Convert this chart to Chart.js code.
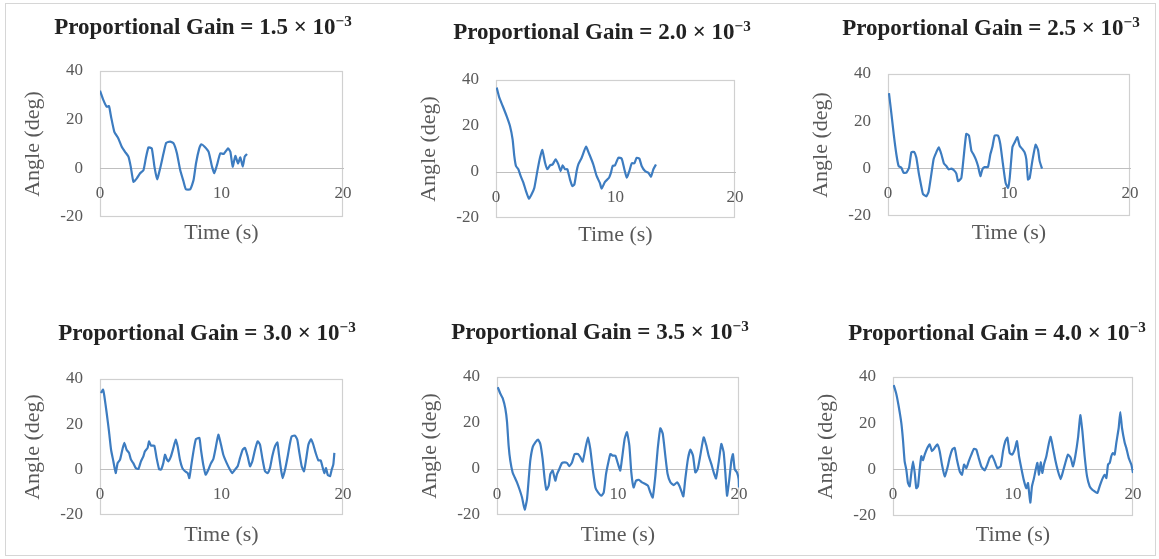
<!DOCTYPE html>
<html>
<head>
<meta charset="utf-8">
<script src="https://cdn.jsdelivr.net/npm/chart.js@4.4.0/dist/chart.umd.min.js"></script>
<style>
  html, body { margin: 0; padding: 0; background: #fff; overflow: hidden; width: 1159px; height: 559px; }
  #frame { position: absolute; left: 5px; top: 3px; width: 1149px; height: 551px; border: 1px solid #d6d6d6; }
  .panel { position: absolute; }
  .title {
    position: absolute; transform: translate(-50%, -50%); white-space: nowrap;
    font: bold 23px "Liberation Serif", serif; color: #222;
  }
  .title sup { font-size: 0.66em; vertical-align: 0.5em; line-height: 0; }
</style>
</head>
<body>
<div id="frame"></div>
<script>
// gains shown in the panel titles (x 10^-3)
const gains = ["1.5", "2.0", "2.5", "3.0", "3.5", "4.0"];
const xTicks = [0, 10, 20];
const yTicks = [-20, 0, 20, 40];

// time (s) and angle (deg)
const time1 = [0,0.28,0.55,0.74,0.91,1.18,1.51,1.79,2.06,2.34,2.53,2.75,3.03,3.3,3.58,3.77,3.99,4.26,4.48,4.7,4.95,5.23,5.45,5.78,6.05,6.33,6.6,6.88,7.07,7.43,7.7,7.9,8.17,8.34,8.61,8.94,9.22,9.41,9.63,9.9,10.18,10.54,10.73,10.92,11.14,11.36,11.55,11.75,11.91,12.1];
const angle1 = [31.9,28,25.3,25.6,21.2,15,12.3,8.9,6.8,4.8,0.7,-5.5,-4.1,-2,-0.7,4.1,8.6,8.2,0.7,-4.5,0,6.2,10.5,11,10.3,6.2,-0.7,-5.5,-8.6,-8.6,-4.8,2,8.2,9.9,8.9,6.8,0.7,-2,1.4,6.2,5.9,8.2,6.8,0.7,5.1,2,4.5,0.7,4.8,5.9];

const time2 = [0.06,0.28,0.56,0.89,1.17,1.39,1.53,1.67,1.87,2.06,2.29,2.51,2.76,2.98,3.21,3.46,3.68,3.88,4.1,4.3,4.52,4.74,4.99,5.22,5.41,5.58,5.77,5.97,6.19,6.39,6.56,6.75,6.89,7.17,7.53,7.81,8.14,8.42,8.7,8.84,9.12,9.46,9.62,9.76,9.96,10.24,10.52,10.74,10.94,11.16,11.36,11.58,11.77,12,12.19,12.47,12.75,12.97,13.17,13.39];
const angle2 = [36.7,32.3,28.7,24.3,20,14.2,7,2.6,1.2,-1.7,-4.6,-8.3,-11.6,-9.7,-6.8,0.4,6.2,9.6,4.1,1.2,2.9,3.3,5.5,3.3,0.4,2.9,1.2,1.2,-3.2,-6.1,-5.4,0.4,3.3,6.2,11,7.7,3.3,-1.7,-4.9,-7.2,-4.3,-2.5,-0.3,2.6,2.9,6.2,5.8,1.2,-2.5,0.4,3.8,3.8,6.2,5.8,2.6,0.4,-0.3,-2,1.2,3.3];

const time3 = [0.08,0.28,0.47,0.69,0.88,1.1,1.29,1.52,1.74,1.93,2.15,2.34,2.56,2.75,2.89,3.17,3.36,3.58,3.77,3.99,4.19,4.41,4.63,4.82,5.01,5.23,5.45,5.65,5.79,6.06,6.25,6.47,6.69,6.89,7.08,7.25,7.44,7.64,7.8,7.99,8.26,8.46,8.62,8.82,9.09,9.28,9.5,9.72,9.92,10.06,10.28,10.47,10.69,10.88,11.1,11.29,11.43,11.57,11.71,11.93,12.2,12.4,12.53,12.73];
const angle3 = [31.9,23.3,14.7,6.1,1.1,0.4,-1.7,-1.7,0.4,6.9,7.1,4.7,-2.4,-7.4,-10.7,-11.7,-9.6,-2.4,4,6.9,9,6.1,2.1,1.1,-0.3,0,-0.7,-2.1,-5.3,-3.9,4.7,14.7,14,7.6,5.9,4,1.1,-3.1,-0.3,0.7,0.7,6.1,9,14,14,10.4,1.9,-6,-8.1,-3.9,9,11.1,13.3,9.7,8.3,6.9,4,-4.6,-3.9,3.3,10.1,7.9,3.3,0];

const time4 = [0.08,0.25,0.36,0.55,0.74,0.91,1.1,1.29,1.45,1.65,1.84,2,2.19,2.39,2.55,2.74,2.94,3.16,3.37,3.57,3.7,3.92,4.03,4.2,4.47,4.66,4.86,5.02,5.21,5.35,5.49,5.62,5.84,6.04,6.23,6.39,6.58,6.78,7,7.22,7.35,7.54,7.74,7.9,8.18,8.31,8.5,8.7,8.92,9.14,9.33,9.52,9.74,9.96,10.15,10.43,10.7,10.89,11.11,11.33,11.52,11.74,11.93,12.15,12.35,12.54,12.76,12.98,13.17,13.36,13.58,13.8,13.99,14.18,14.4,14.6,14.73,14.9,15.03,15.23,15.45,15.64,15.78,16.05,16.24,16.41,16.6,16.79,16.96,17.15,17.37,17.56,17.75,17.97,18.16,18.3,18.46,18.6,18.74,18.93,19.07,19.2,19.29];
const angle4 = [33.8,35.3,32.4,25,16.9,8.8,3.7,-1.5,2.9,4.4,8.8,11.8,8.8,7.4,4.4,2.9,0.7,0.3,3.7,5.9,8.1,9.6,12.5,10.6,10.6,5.1,0.3,0,2.9,6.6,4.7,3.7,5.9,9.6,13.2,10.3,4.4,0.7,-0.7,-1.5,-3.7,2.9,9.6,13.5,14,8.8,2.2,-2.2,0,2.9,4.7,9.6,15.4,11,6.6,2.9,0,-1.5,0,1.5,5.1,8.8,9.6,5.9,1.5,3.7,8.8,12.5,11,5.1,-0.7,-1.5,0.7,5.9,10.3,12,6.6,0,-3.7,0,5.9,11.8,14.7,15,13.2,7.4,1.5,-0.7,4.4,11,13.5,11,7.4,4.1,4.1,1.5,-1.5,0.7,-2.2,-2.9,0,2.2,7.4];

const time5 = [0.06,0.28,0.47,0.69,0.83,0.96,1.1,1.29,1.46,1.65,1.85,2.07,2.29,2.48,2.62,2.75,2.95,3.17,3.39,3.58,3.77,3.94,4.08,4.27,4.41,4.6,4.82,4.96,5.15,5.37,5.59,5.79,5.98,6.2,6.42,6.69,6.89,7.08,7.3,7.52,7.71,7.91,8.13,8.35,8.62,8.82,9.01,9.23,9.37,9.56,9.78,10,10.19,10.33,10.55,10.74,10.94,11.1,11.29,11.49,11.71,11.98,12.26,12.48,12.67,12.87,13.09,13.28,13.5,13.7,13.91,14.1,14.33,14.6,14.88,15.07,15.23,15.4,15.56,15.78,15.98,16.2,16.39,16.59,16.8,17.08,17.3,17.49,17.71,17.91,18.1,18.32,18.54,18.73,18.87,19.01,19.2,19.37,19.5,19.64,19.83,19.97,20];
const angle5 = [35.6,32.7,30.8,26.2,20.4,10.2,3.6,-1.5,-3.6,-5.8,-8.7,-12.4,-17.7,-13.1,-4.4,3.6,9.5,11.6,12.8,10.9,4.4,-4.4,-9,-7.3,-2.2,-0.7,-5.1,-2.2,0,2.6,2.9,2.6,1.2,2.9,6.5,6.5,5.1,3.2,8.7,13.8,8.7,0,-8,-10.2,-11.6,-10.2,-2.2,3.6,6.5,5.8,5.8,2.2,-0.7,4.4,13.1,16,10.2,-1.5,-8,-5.1,-4.7,-5.8,-6.5,-7.3,-10.2,-12.4,-2.9,8.7,17.7,15.3,5.8,-2.2,-5.8,-7,-5.8,-7.3,-9.5,-11.9,-4.4,4.4,8.4,5.8,-1.5,0,5.8,13.8,10.2,5.8,2.2,-1.5,-4.1,2.9,10.9,7.3,-1.5,-11.6,-4.4,3.6,6.5,0,-1.5,-4.4,-8];

const time6 = [0.06,0.28,0.47,0.69,0.83,0.97,1.11,1.25,1.39,1.53,1.67,1.81,1.94,2.08,2.22,2.36,2.5,2.64,2.86,3.06,3.25,3.47,3.69,3.89,4.08,4.31,4.53,4.72,4.94,5.14,5.33,5.56,5.75,5.92,6.11,6.31,6.53,6.75,6.94,7.14,7.36,7.64,7.86,8.06,8.25,8.47,8.69,8.97,9.17,9.36,9.53,9.72,9.92,10.14,10.33,10.5,10.69,10.89,11.11,11.25,11.44,11.58,11.75,11.89,12.03,12.17,12.31,12.44,12.58,12.78,12.97,13.14,13.33,13.53,13.75,13.97,14.17,14.36,14.58,14.81,15,15.19,15.42,15.61,15.78,15.97,16.17,16.39,16.61,16.81,17.03,17.22,17.42,17.64,17.78,17.92,18.06,18.19,18.33,18.47,18.61,18.81,18.94,19.08,19.31,19.44,19.64,19.86,20];
const angle6 = [36.5,32.6,27.5,20.3,13,3.6,0,-5.8,-7.2,-1.4,3.6,-1.4,-8,-7.2,0,5.8,4.1,6.5,9.4,10.9,8,9.4,10.9,8,2.2,-2.9,0.7,5.1,8.7,9.4,4.3,-0.7,-2.2,2.2,0.7,3.6,6.5,9,8.7,5.1,1.4,-0.3,2.2,5.1,6.1,3.6,0.7,1.4,8,12.3,13.8,7.2,6.5,8.7,12.3,5.8,0.7,-4.3,-8,-5.8,-14.2,-7.2,-3.6,0,2.9,-2.2,3.2,-1.4,2.2,5.8,10.9,14.2,9.4,4.1,-0.7,-4.1,-0.7,2.9,6.5,5.1,1.4,5.8,13.8,23.5,16.7,5.8,-2.9,-7.2,-8.7,-9.4,-10.1,-7.2,-4.3,-2.2,-3.6,2.2,2.9,5.8,7.2,6.5,11.6,18.1,24.9,18.1,11.6,9.4,5.1,2.2,-1.4];

const times = [time1, time2, time3, time4, time5, time6];
const angles = [angle1, angle2, angle3, angle4, angle5, angle6];

// where each plot box sits on the page, the title centre and the gap above "Time (s)"
const boxes = [
  { left: 100, right: 343, top: 71, bottom: 217, tx: 203, ty: 27, gap: 3 },
  { left: 496, right: 735, top: 80, bottom: 218, tx: 602, ty: 32, gap: 4 },
  { left: 888, right: 1130, top: 74, bottom: 216, tx: 991, ty: 28, gap: 4 },
  { left: 100, right: 343, top: 379, bottom: 515, tx: 207, ty: 333, gap: 7 },
  { left: 497, right: 739, top: 377, bottom: 515, tx: 600, ty: 332, gap: 7 },
  { left: 893, right: 1133, top: 377, bottom: 516, tx: 997, ty: 333, gap: 6 },
];

const YAXIS_W = 100, PAD_TOP = 34, PAD_RIGHT = 30, BOTTOM_SPACE = 44;
const grey = "#595959";
const serif = "'Liberation Serif', 'Times New Roman', serif";

// light grey plot-area border, like the spreadsheet chart
const plotBorder = {
  id: "plotBorder",
  beforeDraw(chart) {
    const { ctx, chartArea: a } = chart;
    ctx.save();
    ctx.strokeStyle = "#d0d0d0";
    ctx.lineWidth = 1.2;
    ctx.strokeRect(Math.round(a.left) + 0.5, Math.round(a.top) + 0.5,
      Math.round(a.right - a.left) - 1, Math.round(a.bottom - a.top) - 1);
    ctx.restore();
  },
};

boxes.forEach((b, i) => {
  const w = b.right - b.left + YAXIS_W + PAD_RIGHT;
  const h = b.bottom - b.top + PAD_TOP + BOTTOM_SPACE;

  const wrap = document.createElement("div");
  wrap.className = "panel";
  wrap.style.left = (b.left - YAXIS_W) + "px";
  wrap.style.top = (b.top - PAD_TOP) + "px";
  wrap.style.width = w + "px";
  wrap.style.height = h + "px";
  const canvas = document.createElement("canvas");
  canvas.width = w;
  canvas.height = h;
  wrap.appendChild(canvas);
  document.body.appendChild(wrap);

  const title = document.createElement("div");
  title.className = "title";
  title.style.left = b.tx + "px";
  title.style.top = b.ty + "px";
  title.innerHTML = "Proportional Gain = " + gains[i] + " \u00d7 10<sup>\u22123</sup>";
  document.body.appendChild(title);

  const xTitleFont = { family: serif, size: 22 };
  const xTitleHeight = xTitleFont.size * 1.2 + b.gap + 4;

  new Chart(canvas, {
    type: "line",
    data: {
      datasets: [{
        data: times[i].map((t, k) => ({ x: t, y: angles[i][k] })),
        borderColor: "#3d7cc0",
        borderWidth: 2.2,
        pointRadius: 0,
        tension: 0.15,
        fill: false,
      }],
    },
    options: {
      responsive: false,
      animation: false,
      layout: { padding: { left: 0, top: PAD_TOP, right: PAD_RIGHT, bottom: BOTTOM_SPACE - xTitleHeight } },
      plugins: { legend: { display: false }, tooltip: { enabled: false } },
      scales: {
        x: {
          type: "linear",
          position: { y: 0 },
          min: xTicks[0],
          max: xTicks[xTicks.length - 1],
          grid: { display: false, drawTicks: false },
          border: { color: "#bfbfbf", width: 1 },
          ticks: { stepSize: xTicks[1] - xTicks[0], padding: 15, maxRotation: 0, color: grey, font: { family: serif, size: 17 } },
        },
        xt: {
          type: "linear",
          axis: "x",
          position: "bottom",
          min: xTicks[0],
          max: xTicks[xTicks.length - 1],
          grid: { display: false, drawTicks: false },
          border: { display: false },
          ticks: { display: false },
          title: { display: true, text: "Time (s)", color: grey, font: xTitleFont, padding: { top: b.gap, bottom: 4 } },
        },
        y: {
          min: yTicks[0],
          max: yTicks[yTicks.length - 1],
          grid: { display: false, drawTicks: false },
          border: { display: false },
          ticks: { stepSize: yTicks[1] - yTicks[0], padding: 17, color: grey, font: { family: serif, size: 17 } },
          title: { display: true, text: "Angle (deg)", color: grey, font: { family: serif, size: 22 }, padding: { top: 20, bottom: 0 } },
          afterFit(scale) { scale.width = YAXIS_W; },
        },
      },
    },
    plugins: [plotBorder],
  });
});
</script>
</body>
</html>
